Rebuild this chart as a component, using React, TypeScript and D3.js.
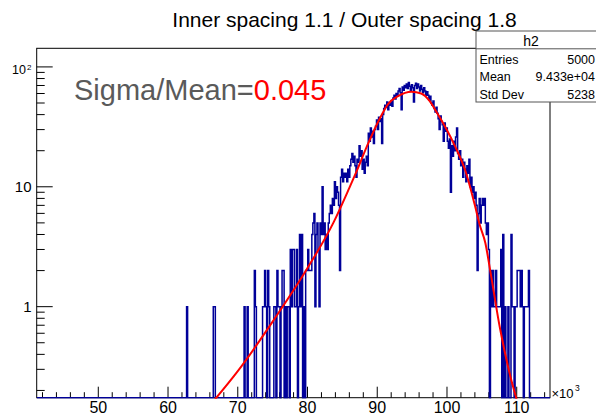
import React from 'react';
import * as d3 from 'd3';

const TITLE = 'Inner spacing 1.1 / Outer spacing 1.8';
const X_DOMAIN: [number, number] = [41.17, 114.77];
const Y_DOMAIN: [number, number] = [0.174, 143];
const N_BINS = 500;
const FIRST_BIN = 140;

// bin contents (bins 140 .. 489)
const binCounts = [
  0, 0, 0, 0, 0, 0, 1, 0, 0, 0,
  0, 0, 0, 0, 0, 0, 0, 0, 0, 0,
  0, 0, 0, 0, 0, 0, 0, 0, 0, 0,
  0, 0, 1, 1, 0, 0, 0, 0, 0, 0,
  0, 0, 0, 0, 0, 0, 0, 0, 0, 0,
  0, 0, 0, 0, 0, 0, 0, 0, 0, 0,
  0, 0, 1, 0, 0, 1, 0, 0, 0, 0,
  0, 0, 2, 1, 0, 0, 0, 0, 0, 0,
  1, 1, 2, 1, 0, 2, 1, 0, 0, 0,
  0, 1, 1, 0, 2, 1, 1, 0, 1, 2,
  2, 0, 1, 0, 1, 1, 0, 3, 1, 3,
  3, 1, 1, 3, 0, 1, 4, 1, 4, 0,
  1, 0, 2, 2, 3, 2, 2, 2, 4, 5,
  6, 1, 4, 5, 3, 1, 5, 4, 10, 4,
  5, 3, 4, 3, 5, 6, 7, 6, 8, 7,
  11, 8, 10, 9, 7, 2, 12, 14, 11, 13,
  12, 13, 11, 14, 12, 15, 17, 19, 16, 18,
  15, 12, 17, 16, 22, 18, 20, 14, 17, 13,
  16, 18, 15, 28, 24, 31, 26, 29, 23, 30,
  32, 36, 30, 38, 35, 37, 23, 40, 45, 48,
  46, 51, 44, 50, 48, 52, 47, 55, 58, 54,
  60, 57, 63, 66, 61, 44, 68, 64, 70, 67,
  72, 66, 74, 69, 64, 71, 67, 51, 70, 73,
  66, 72, 68, 63, 70, 65, 61, 67, 63, 58,
  62, 58, 53, 57, 50, 48, 52, 45, 42, 46,
  41, 37, 30, 39, 35, 33, 24, 34, 29, 31,
  24, 21, 25, 9, 22, 18, 24, 20, 26, 31,
  19, 17, 20, 15, 17, 12, 16, 14, 11, 15,
  13, 17, 10, 12, 9, 10, 8, 9, 7, 2,
  6, 8, 5, 7, 8, 7, 8, 5, 4, 5,
  3, 0, 2, 1, 2, 1, 1, 2, 1, 1,
  1, 1, 3, 0, 4, 0, 1, 0, 0, 1,
  0, 0, 4, 1, 1, 0, 1, 1, 2, 2,
  2, 1, 2, 1, 0, 1, 1, 1, 1, 2,
  0, 0, 0, 0, 0, 0, 0, 0, 0, 0,
];

// fitted curve (x in 10^3, y in counts)
const fitX = [66.4, 70, 75, 80, 83.7, 86, 86.8, 88.7, 90.35, 91.55, 92.98, 94.9, 96.3, 97.5, 98.3, 99.7, 101.2, 102.6, 104.0, 104.7, 105.5, 106.2, 107.6, 109.1, 110.1];
const fitY = [0.16, 0.29, 0.75, 2.1, 5.0, 9.8, 12.5, 23, 37, 49, 57, 62, 60, 52, 44, 32, 21.5, 13.8, 7.0, 4.8, 3.4, 2.0, 0.66, 0.26, 0.16];

const xMajorTicks = [50, 60, 70, 80, 90, 100, 110];
const yMajorTicks = [1, 10, 100];
const statsTitle = 'h2';
const statsLabels = ['Entries', 'Mean', 'Std Dev'];
const statsValues = ['5000', '9.433e+04', '5238'];

const FONT = 'Liberation Sans, Arial, Helvetica, sans-serif';

export default function App() {
  const W = 596, H = 418;
  const L = 36.7, R = 550, T = 48.3, B = 397.7;
  const x = d3.scaleLinear().domain(X_DOMAIN).range([L, R]);
  const y = d3.scaleLog().domain(Y_DOMAIN).range([B, T]);
  const bw = (X_DOMAIN[1] - X_DOMAIN[0]) / N_BINS;

  const pts: [number, number][] = [];
  for (let i = 0; i < N_BINS; i++) {
    const k = i - FIRST_BIN;
    const c = k >= 0 && k < binCounts.length ? binCounts[k] : 0;
    const yy = c > 0 ? y(c) : B;
    pts.push([x(X_DOMAIN[0] + i * bw), yy], [x(X_DOMAIN[0] + (i + 1) * bw), yy]);
  }
  const histPath = d3.line()(pts) || '';

  const fitPts: [number, number][] = fitX.map((v, i) => [x(v), y(fitY[i])]);
  const fitPath = d3.line().curve(d3.curveMonotoneX)(fitPts) || '';

  const xMinor = d3.range(42, 115, 2).filter((v) => v % 10 !== 0 && v >= X_DOMAIN[0] && v <= X_DOMAIN[1]);
  const yMinor: number[] = [];
  [0.1, 1, 10].forEach((d) => {
    for (let k = 2; k <= 9; k++) {
      const v = k * d;
      if (v >= Y_DOMAIN[0] && v <= Y_DOMAIN[1]) yMinor.push(v);
    }
  });

  const boxL = 476, boxT = 31, boxB = 102, boxR = 600;

  return (
    <svg width={W} height={H} style={{ position: 'absolute', left: 0, top: 0, background: '#fff' }} fontFamily={FONT}>
      <defs>
        <clipPath id="frameClip">
          <rect x={L} y={T} width={R - L} height={B - T + 1} />
        </clipPath>
      </defs>
      <rect x={0} y={0} width={W} height={H} fill="#fff" />
      <text x={344.5} y={27} fontSize={21} textAnchor="middle" fill="#000">{TITLE}</text>

      {/* frame */}
      <rect x={L} y={T} width={R - L} height={B - T} fill="none" stroke="#000" strokeWidth={1} />

      {/* y ticks */}
      {yMajorTicks.map((v) => (
        <line key={'ym' + v} x1={L} x2={L + 16} y1={y(v)} y2={y(v)} stroke="#000" strokeWidth={1} />
      ))}
      {yMinor.map((v) => (
        <line key={'yn' + v} x1={L} x2={L + 8} y1={y(v)} y2={y(v)} stroke="#000" strokeWidth={1} />
      ))}
      {/* x ticks */}
      {xMajorTicks.map((v) => (
        <line key={'xm' + v} x1={x(v)} x2={x(v)} y1={B} y2={B - 11} stroke="#000" strokeWidth={1} />
      ))}
      {xMinor.map((v) => (
        <line key={'xn' + v} x1={x(v)} x2={x(v)} y1={B} y2={B - 5.5} stroke="#000" strokeWidth={1} />
      ))}

      {/* histogram */}
      <path d={histPath} fill="none" stroke="#000099" strokeWidth={1.5} clipPath="url(#frameClip)" />
      {/* fit */}
      <path d={fitPath} fill="none" stroke="#ff0000" strokeWidth={2} clipPath="url(#frameClip)" />

      {/* y labels */}
      <text x={31.5} y={y(1) + 5.3} fontSize={15} textAnchor="end">1</text>
      <text x={31.5} y={y(10) + 5.3} fontSize={15} textAnchor="end">10</text>
      <text x={26} y={y(100) + 7.5} fontSize={12.5} textAnchor="end">10</text>
      <text x={27} y={y(100) + 3} fontSize={8}>2</text>

      {/* x labels */}
      {xMajorTicks.map((v) => (
        <text key={'xl' + v} x={x(v)} y={413.3} fontSize={16} textAnchor="middle">{v}</text>
      ))}
      <text x={551.5} y={398.3} fontSize={13}>×10</text>
      <text x={575} y={390.5} fontSize={8.5}>3</text>

      {/* Sigma/Mean */}
      <text x={74} y={100} fontSize={29} fill="#5a5a5a">
        Sigma/Mean=<tspan fill="#ff0000">0.045</tspan>
      </text>

      {/* stats box */}
      <rect x={boxL} y={boxT} width={boxR - boxL} height={boxB - boxT} fill="#fff" stroke="#555" strokeWidth={1} />
      <line x1={boxL} x2={boxR} y1={48.8} y2={48.8} stroke="#555" strokeWidth={1} />
      <text x={531} y={46} fontSize={14} textAnchor="middle">{statsTitle}</text>
      {statsLabels.map((s, i) => (
        <text key={'sl' + i} x={479.5} y={63.5 + i * 17.5} fontSize={12.5}>{s}</text>
      ))}
      {statsValues.map((s, i) => (
        <text key={'sv' + i} x={595} y={63.5 + i * 17.5} fontSize={12.5} textAnchor="end">{s}</text>
      ))}
    </svg>
  );
}
